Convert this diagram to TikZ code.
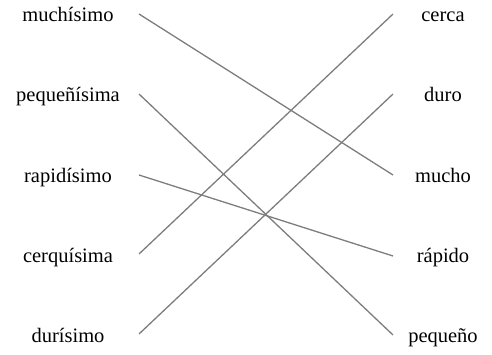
\documentclass[tikz,border=0pt]{standalone}
\usepackage{fontspec}
\setmainfont{Liberation Serif}
\definecolor{linegray}{RGB}{125,125,125}
\begin{document}
\begin{tikzpicture}[x=1pt,y=1pt,
  word/.style={anchor=base,inner sep=0pt,font=\fontsize{20.5}{24}\selectfont},
  link/.style={draw=linegray,line width=1.3pt}]
\useasboundingbox (0,0) rectangle (492,354);
% left words
\node[word] (l1) at (68,332) {muchísimo};
\node[word] (l2) at (68,252) {pequeñísima};
\node[word] (l3) at (68,172) {rapidísimo};
\node[word] (l4) at (68,92) {cerquísima};
\node[word] (l5) at (68,12) {durísimo};
% right words
\node[word] (r1) at (443,332) {cerca};
\node[word] (r2) at (443,252) {duro};
\node[word] (r3) at (443,172) {mucho};
\node[word] (r4) at (443,92) {rápido};
\node[word] (r5) at (443,12) {pequeño};
% line ends
\coordinate (a1) at (139,340);
\coordinate (a2) at (139,260);
\coordinate (a3) at (139,179);
\coordinate (a4) at (139,100);
\coordinate (a5) at (139,20);
\coordinate (b1) at (393,340);
\coordinate (b2) at (393,260);
\coordinate (b3) at (393,179);
\coordinate (b4) at (393,98);
\coordinate (b5) at (393,19);
% connectors
\draw[link] (a1) -- (b3);
\draw[link] (a2) -- (b5);
\draw[link] (a3) -- (b4);
\draw[link] (a4) -- (b1);
\draw[link] (a5) -- (b2);
\end{tikzpicture}
\end{document}
